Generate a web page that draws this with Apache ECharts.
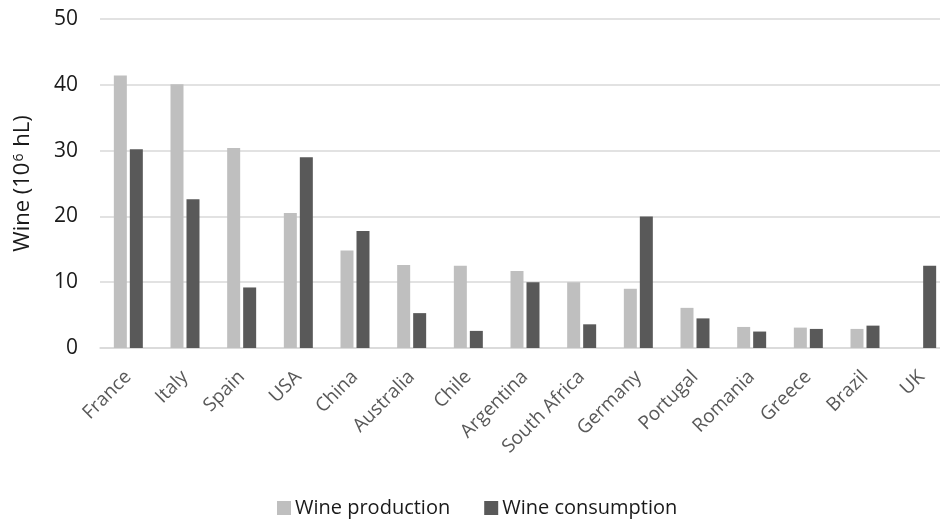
<!DOCTYPE html>
<html>
<head>
<meta charset="utf-8">
<script src="https://cdn.jsdelivr.net/npm/echarts@6/dist/echarts.min.js"></script>
<style>
  html, body { margin: 0; padding: 0; background: #fff; }
  #chart { width: 940px; height: 523px; }
</style>
</head>
<body>
<div id="chart"></div>
<script>
// Wine production and consumption by country (millions of hectolitres)
const countries = ['France', 'Italy', 'Spain', 'USA', 'China', 'Australia', 'Chile',
  'Argentina', 'South Africa', 'Germany', 'Portugal', 'Romania', 'Greece', 'Brazil', 'UK'];
const production = [41.4, 40.1, 30.4, 20.5, 14.8, 12.6, 12.5, 11.7, 10.0, 9.0, 6.1, 3.2, 3.1, 2.9, null];
const consumption = [30.2, 22.6, 9.2, 29.0, 17.8, 5.3, 2.6, 10.0, 3.6, 20.0, 4.5, 2.5, 2.9, 3.4, 12.5];
const yTicks = { min: 0, max: 50, interval: 10 };

const font = '"Open Sans", "Noto Sans", sans-serif';
const chart = echarts.init(document.getElementById('chart'), null, { renderer: 'canvas' });

chart.setOption({
  animation: false,
  textStyle: { fontFamily: font },
  grid: { left: 100, right: -10, top: 19, bottom: 175, containLabel: false, outerBoundsMode: 'none' },
  legend: {
    bottom: 0,
    left: 272,
    itemWidth: 14,
    itemHeight: 14,
    itemGap: 34,
    icon: 'rect',
    textStyle: { fontSize: 20, color: '#1a1a1a', fontFamily: font, padding: [0, 0, 0, -1] },
    data: ['Wine production', 'Wine consumption']
  },
  xAxis: {
    type: 'category',
    data: countries,
    axisLine: { lineStyle: { color: '#D9D9D9', width: 1.5 } },
    axisTick: { show: false },
    axisLabel: {
      rotate: 45,
      interval: 0,
      margin: 26,
      fontSize: 19,
      color: '#595959',
      fontFamily: font
    }
  },
  yAxis: {
    type: 'value',
    min: yTicks.min,
    max: yTicks.max,
    interval: yTicks.interval,
    name: 'Wine (10{sup|6} hL)',
    nameLocation: 'middle',
    nameGap: 66,
    nameRotate: 90,
    nameTextStyle: {
      fontSize: 22,
      color: '#1a1a1a',
      fontFamily: font,
      rich: {
        sup: { fontSize: 14, color: '#1a1a1a', fontFamily: font, verticalAlign: 'top', padding: [0, 1, 8, 1] }
      }
    },
    axisLine: { show: false },
    axisTick: { show: false },
    axisLabel: { fontSize: 21, color: '#1a1a1a', margin: 22, fontFamily: font },
    splitLine: { lineStyle: { color: '#D9D9D9', width: 1.5 } }
  },
  series: [
    {
      name: 'Wine production',
      type: 'bar',
      data: production,
      barWidth: 13,
      barGap: '23%',
      itemStyle: { color: '#BFBFBF' }
    },
    {
      name: 'Wine consumption',
      type: 'bar',
      data: consumption,
      barWidth: 13,
      itemStyle: { color: '#595959' }
    }
  ]
});
</script>
</body>
</html>
